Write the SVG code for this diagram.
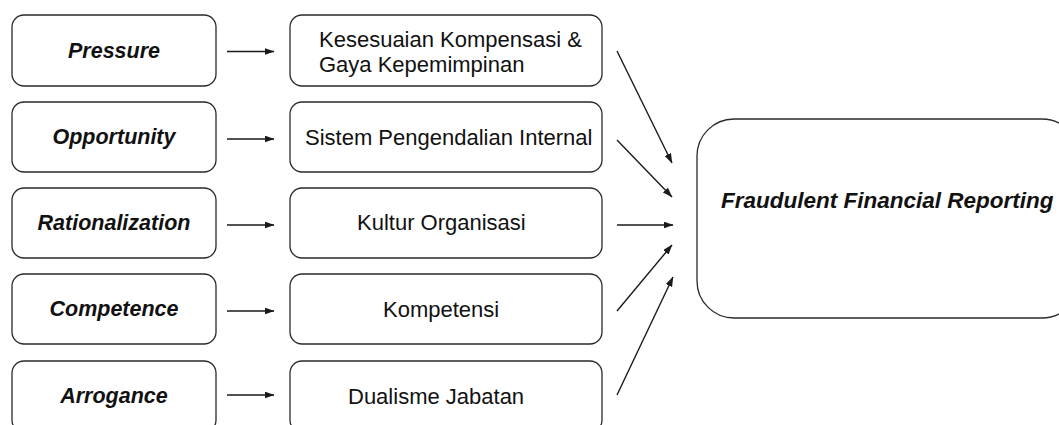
<svg xmlns="http://www.w3.org/2000/svg" width="1059" height="425" viewBox="0 0 1059 425">
<style>
.box{fill:#fff;stroke:#2a2a2a;stroke-width:1.3}
.lbl{font-family:"Liberation Sans",Arial,sans-serif;font-size:21.5px;font-weight:bold;font-style:italic;fill:#111;text-anchor:middle}
.txt{font-family:"Liberation Sans",Arial,sans-serif;font-size:22px;fill:#111}
.big{font-family:"Liberation Sans",Arial,sans-serif;font-size:22.5px;font-weight:bold;font-style:italic;fill:#111}
.conn{stroke:#1a1a1a;stroke-width:1.4;fill:none;marker-end:url(#ah)}
</style>
<defs>
<marker id="ah" markerUnits="userSpaceOnUse" markerWidth="10" markerHeight="8" refX="9.5" refY="3.5" orient="auto">
<path d="M0,0 L10,3.5 L0,7 z" fill="#1a1a1a"/>
</marker>
</defs>
<rect width="1059" height="425" fill="#fff"/>
<g id="pressure"><rect class="box" x="12" y="15" width="204" height="71" rx="12"/><text class="lbl" x="114" y="58">Pressure</text></g>
<g id="opportunity"><rect class="box" x="12" y="102" width="204" height="70" rx="12"/><text class="lbl" x="114" y="144">Opportunity</text></g>
<g id="rationalization"><rect class="box" x="12" y="188" width="204" height="70" rx="12"/><text class="lbl" x="114" y="230">Rationalization</text></g>
<g id="competence"><rect class="box" x="12" y="274" width="204" height="70" rx="12"/><text class="lbl" x="114" y="316">Competence</text></g>
<g id="arrogance"><rect class="box" x="12" y="361" width="204" height="71" rx="12"/><text class="lbl" x="114" y="403">Arrogance</text></g>
<g id="kompensasi"><rect class="box" x="290" y="15" width="312" height="71" rx="12"/><text class="txt" x="319" y="47">Kesesuaian Kompensasi &amp;</text><text class="txt" x="319" y="72">Gaya Kepemimpinan</text></g>
<g id="spi"><rect class="box" x="290" y="102" width="312" height="70" rx="12"/><text class="txt" x="305" y="145">Sistem Pengendalian Internal</text></g>
<g id="kultur"><rect class="box" x="290" y="188" width="312" height="70" rx="12"/><text class="txt" x="357" y="230">Kultur Organisasi</text></g>
<g id="kompetensi"><rect class="box" x="290" y="274" width="312" height="70" rx="12"/><text class="txt" x="383" y="317">Kompetensi</text></g>
<g id="dualisme"><rect class="box" x="290" y="361" width="312" height="71" rx="12"/><text class="txt" x="348" y="404">Dualisme Jabatan</text></g>
<g id="ffr"><rect class="box" x="697" y="119" width="382" height="199" rx="37"/><text class="big" x="721" y="208">Fraudulent Financial Reporting</text></g>
<g id="connectors">
<path class="conn" d="M227,51.5 L274,51.5"/>
<path class="conn" d="M227,139 L274,139"/>
<path class="conn" d="M227,225 L274,225"/>
<path class="conn" d="M227,311 L274,311"/>
<path class="conn" d="M227,395 L274,395"/>
<path class="conn" d="M617,51 L672,163"/>
<path class="conn" d="M617,140 L672,197"/>
<path class="conn" d="M617,225 L673,225"/>
<path class="conn" d="M617,311 L672,245"/>
<path class="conn" d="M617,395 L673,277"/>
</g>
</svg>
